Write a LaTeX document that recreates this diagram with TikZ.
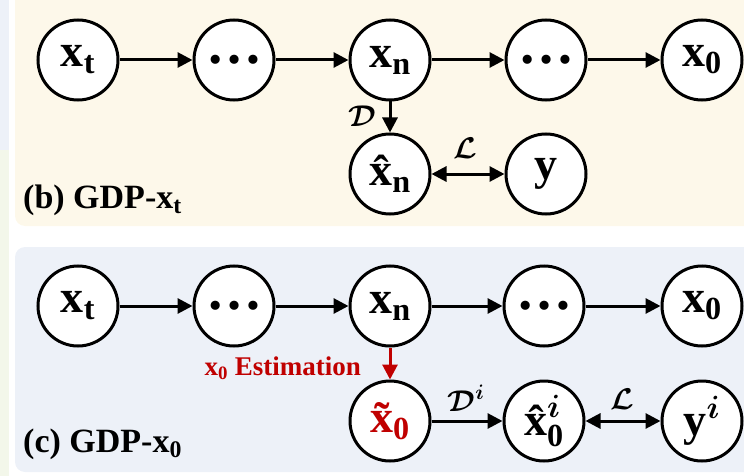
\RequirePackage{fix-cm}
\documentclass[tikz,border=0pt]{standalone}
\usepackage{amsmath,bm}
\usepackage{fontspec}
\setmainfont{Liberation Serif}
\usetikzlibrary{arrows.meta}
\definecolor{cream}{HTML}{FDF8EA}
\definecolor{paleblue}{HTML}{EDF1F8}
\definecolor{palegreen}{HTML}{F3F7EA}
\definecolor{darkred}{HTML}{C00000}
\tikzset{
  nd/.style={circle,draw,line width=3pt,fill=white,minimum size=80pt,inner sep=0pt,
    font=\fontsize{46}{46}\selectfont\bfseries},
  dotsnd/.style={nd,font=\fontsize{56}{56}\selectfont\bfseries},
  tip/.style={},
  arr/.style={line width=3pt,-{Triangle[length=15pt,width=15pt]}},
  darr/.style={line width=3pt,{Triangle[length=15pt,width=15pt]}-{Triangle[length=15pt,width=15pt]}},
  lbl/.style={font=\fontsize{30}{30}\selectfont, inner sep=0pt},
  panel/.style={font=\fontsize{34}{34}\selectfont\bfseries, inner sep=0pt, anchor=base west}
}
\begin{document}
\begin{tikzpicture}[x=1pt,y=-1pt]
\useasboundingbox (0,0) rectangle (744,476);
% side strip
\fill[paleblue] (0,0) rectangle (9,150);
\fill[palegreen] (0,150) rectangle (9,476);
% panels
\fill[cream, rounded corners=10pt] (15,-20) rectangle (770,226);
\fill[paleblue, rounded corners=10pt] (15,247) rectangle (770,472);

% ---------- panel (b)
\node[nd] (bxt) at (78,60) {$\textbf{x}_{\textbf{t}}$};
\node[dotsnd] (bd1) at (234,60) {…};
\node[nd] (bxn) at (390,60) {$\textbf{x}_{\textbf{n}}$};
\node[dotsnd] (bd2) at (546,60) {…};
\node[nd] (bx0) at (702,60) {$\textbf{x}_{\textbf{0}}$};
\node[nd] (bxh) at (390,174) {$\textbf{\^{x}}_{\textbf{n}}$};
\node[nd] (by) at (546,174) {\textbf{y}};
\draw[arr] (bxt) -- (bd1);
\draw[arr] (bd1) -- (bxn);
\draw[arr] (bxn) -- (bd2);
\draw[arr] (bd2) -- (bx0);
\draw[arr] (bxn) -- (bxh);
\draw[darr] (bxh) -- (by);
\node[lbl] (bD) at (362,116) {$\bm{\mathcal{D}}$};
\node[lbl] (bL) at (465,148) {$\bm{\mathcal{L}}$};
\node[panel] (btitle) at (23,208) {(b) GDP-$\textbf{x}_{\textbf{t}}$};

% ---------- panel (c)
\node[nd] (cxt) at (78,306) {$\textbf{x}_{\textbf{t}}$};
\node[dotsnd] (cd1) at (234,306) {…};
\node[nd] (cxn) at (390,306) {$\textbf{x}_{\textbf{n}}$};
\node[dotsnd] (cd2) at (544,306) {…};
\node[nd] (cx0) at (702,306) {$\textbf{x}_{\textbf{0}}$};
\node[nd, text=darkred] (cxt0) at (390,421) {$\textbf{\~{x}}_{\textbf{0}}$};
\node[nd] (cxh) at (544,421) {$\textbf{\^{x}}^{\bm{i}}_{\textbf{0}}$};
\node[nd] (cy) at (702,421) {$\textbf{y}^{\bm{i}}$};
\draw[arr] (cxt) -- (cd1);
\draw[arr] (cd1) -- (cxn);
\draw[arr] (cxn) -- (cd2);
\draw[arr] (cd2) -- (cx0);
\draw[arr, darkred] (cxn) -- (cxt0);
\draw[arr] (cxt0) -- (cxh);
\draw[darr] (cxh) -- (cy);
\node[lbl] (cD) at (466,398) {$\bm{\mathcal{D}}^{\bm{i}}$};
\node[lbl] (cL) at (622,399) {$\bm{\mathcal{L}}$};
\node[font=\fontsize{27}{27}\selectfont\bfseries, text=darkred, inner sep=0pt, anchor=base east] (est) at (361,375) {$\textbf{x}_{\textbf{0}}$ Estimation};
\node[panel] (ctitle) at (23,452) {(c) GDP-$\textbf{x}_{\textbf{0}}$};
\end{tikzpicture}
\end{document}
